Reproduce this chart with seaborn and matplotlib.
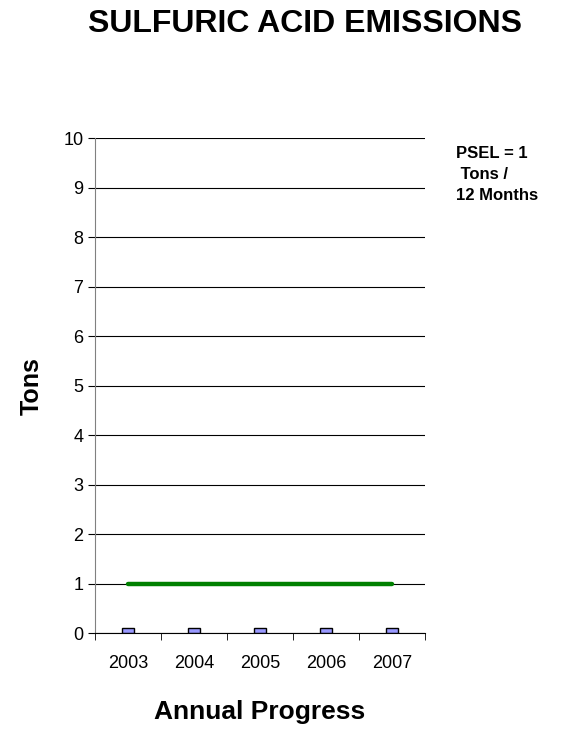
import numpy as np
import pandas as pd
import seaborn as sb
import matplotlib.pyplot as plt

years = ['2003', '2004', '2005', '2006', '2007']
emissions = [0.1, 0.1, 0.1, 0.1, 0.1]  # tons per year
psel = [1, 1, 1, 1, 1]

sb.set_style('white')
plt.rcParams['font.family'] = ['Liberation Sans', 'DejaVu Sans']
plt.rcParams['text.color'] = 'black'
plt.rcParams['axes.labelcolor'] = 'black'
plt.rcParams['xtick.color'] = 'black'
plt.rcParams['ytick.color'] = 'black'

fig = plt.figure(figsize=(5.66, 7.38), dpi=100)
ax = fig.add_axes([0.168, 0.142, 0.583, 0.671])

df = pd.DataFrame({'year': years, 'tons': emissions})
sb.barplot(data=df, x='year', y='tons', color='#9999FF', edgecolor='black',
           linewidth=1, width=0.17, saturation=1, ax=ax)
sb.lineplot(x=np.arange(len(years)), y=psel, color='#008000', linewidth=3.2, ax=ax)

ax.set_ylim(0, 10)
ax.set_xlim(-0.5, len(years) - 0.5)
ax.set_yticks(range(0, 11))
ax.yaxis.grid(True, color='black', linewidth=0.8)
ax.set_axisbelow(True)
for s in ['top', 'right']:
    ax.spines[s].set_visible(False)
ax.spines['left'].set_color('#808080')
ax.spines['bottom'].set_color('black')
ax.set_xticks(np.arange(-0.5, len(years)), minor=True)
ax.tick_params(axis='x', which='major', length=0, labelsize=13, pad=16)
ax.tick_params(axis='x', which='minor', length=5, direction='out', bottom=True)
ax.tick_params(axis='y', length=5, direction='out', left=True, labelsize=13)

ax.set_xlabel('Annual Progress', fontsize=19, fontweight='bold', labelpad=20)
ax.set_ylabel('Tons', fontsize=18, fontweight='bold', labelpad=14)

fig.text(0.539, 0.968, 'SULFURIC ACID EMISSIONS', ha='center', va='center',
         fontsize=23, fontweight='bold')
fig.text(0.805, 0.802, 'PSEL = 1\n Tons /\n12 Months', ha='left', va='top',
         fontsize=12, fontweight='bold', linespacing=1.5)

plt.savefig('out.png', dpi=100)
